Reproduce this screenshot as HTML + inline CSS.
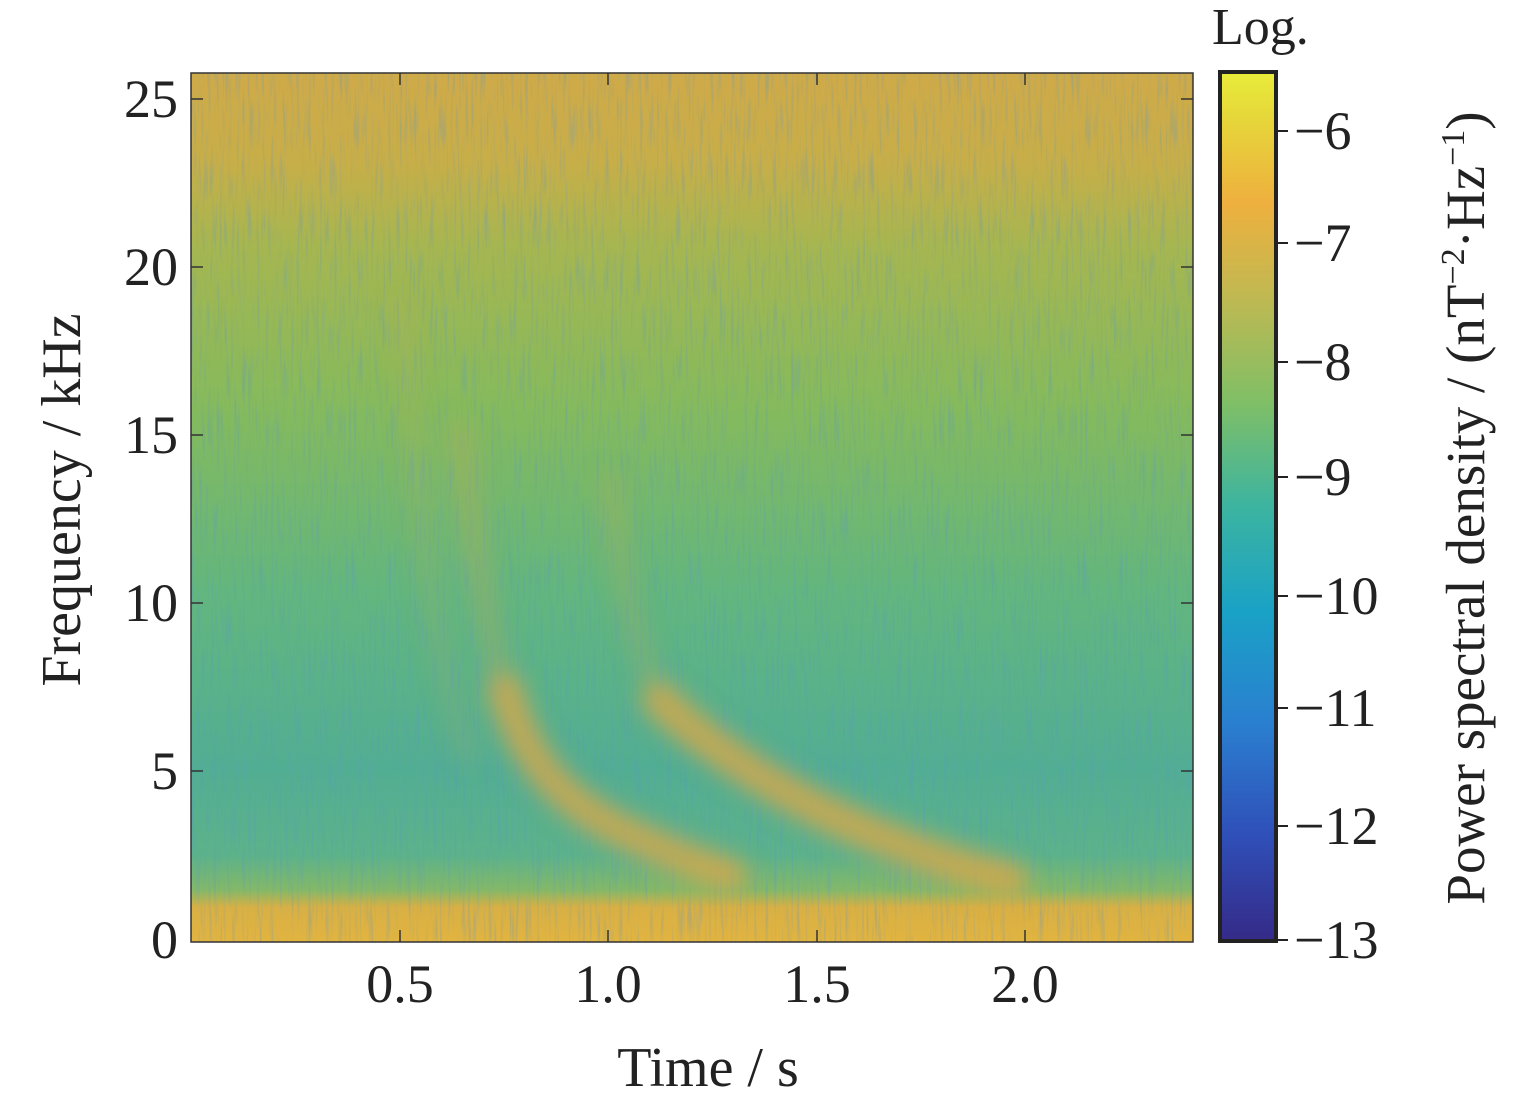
<!DOCTYPE html>
<html><head><meta charset="utf-8"><style>
html,body{margin:0;padding:0;background:#fff;}
svg{display:block;font-family:"Liberation Serif",serif;}
</style></head><body>
<svg width="1535" height="1102" viewBox="0 0 1535 1102">
<defs>
<linearGradient id="bg" x1="0" y1="0" x2="0" y2="1">
<stop offset="0" stop-color="#cfaa48"/>
<stop offset="0.1" stop-color="#c8ae48"/>
<stop offset="0.2" stop-color="#a6b650"/>
<stop offset="0.38" stop-color="#86ba5c"/>
<stop offset="0.6" stop-color="#62b67e"/>
<stop offset="0.8" stop-color="#52ae92"/>
<stop offset="0.9" stop-color="#5cb28a"/>
<stop offset="0.94" stop-color="#84b868"/>
<stop offset="0.96" stop-color="#d8b044"/>
<stop offset="1" stop-color="#e2b440"/>
</linearGradient>
<linearGradient id="cb" x1="0" y1="1" x2="0" y2="0">
<stop offset="0" stop-color="#352a87"/>
<stop offset="0.12" stop-color="#2f4fb8"/>
<stop offset="0.25" stop-color="#2a7fd0"/>
<stop offset="0.38" stop-color="#1aa2c6"/>
<stop offset="0.5" stop-color="#3cb4a0"/>
<stop offset="0.62" stop-color="#80bf66"/>
<stop offset="0.75" stop-color="#c4b850"/>
<stop offset="0.85" stop-color="#eeb03e"/>
<stop offset="0.95" stop-color="#e6d83a"/>
<stop offset="1" stop-color="#e8ec3a"/>
</linearGradient>
<filter id="noise" x="0" y="0" width="100%" height="100%">
<feTurbulence type="fractalNoise" baseFrequency="0.35 0.02" numOctaves="2" seed="3"/>
<feColorMatrix type="matrix" values="0 0 0 0 0.1  0 0 0 0 0.3  0 0 0 0 0.6  2.2 0 0 0 -1.1"/>
</filter>
<filter id="blur"><feGaussianBlur stdDeviation="12"/></filter>
<clipPath id="pc"><rect x="191" y="73" width="1002" height="869"/></clipPath>
</defs>
<g clip-path="url(#pc)">
<rect x="191" y="73" width="1002" height="869" fill="url(#bg)"/>
<rect x="191" y="73" width="1002" height="869" filter="url(#noise)" opacity="0.4"/>
<g filter="url(#blur)" fill="none" stroke="#dca848" stroke-linecap="round">
<path d="M460 430 C475 560 490 640 505 690" stroke-width="18" opacity="0.35"/>
<path d="M505 690 C525 760 560 800 620 830 C660 850 700 865 730 875" stroke-width="34" opacity="0.8"/>
<path d="M610 480 C625 600 640 660 660 690" stroke-width="16" opacity="0.3"/>
<path d="M660 700 C700 740 760 780 820 810 C880 840 950 865 1010 880" stroke-width="36" opacity="0.8"/>
<path d="M400 300 C420 500 430 650 470 760" stroke-width="10" opacity="0.3"/>
</g>
</g>
<rect x="191" y="73" width="1002" height="869" fill="none" stroke="#333" stroke-width="1.5"/>
<g stroke="#333" stroke-width="1.5">
<line x1="400" y1="942" x2="400" y2="930"/><line x1="608" y1="942" x2="608" y2="930"/>
<line x1="817" y1="942" x2="817" y2="930"/><line x1="1025" y1="942" x2="1025" y2="930"/>
<line x1="400" y1="73" x2="400" y2="85"/><line x1="608" y1="73" x2="608" y2="85"/>
<line x1="817" y1="73" x2="817" y2="85"/><line x1="1025" y1="73" x2="1025" y2="85"/>
<line x1="191" y1="771" x2="203" y2="771"/><line x1="191" y1="603" x2="203" y2="603"/>
<line x1="191" y1="435" x2="203" y2="435"/><line x1="191" y1="267" x2="203" y2="267"/><line x1="191" y1="99" x2="203" y2="99"/>
<line x1="1193" y1="771" x2="1181" y2="771"/><line x1="1193" y1="603" x2="1181" y2="603"/>
<line x1="1193" y1="435" x2="1181" y2="435"/><line x1="1193" y1="267" x2="1181" y2="267"/><line x1="1193" y1="99" x2="1181" y2="99"/>
</g>
<g font-size="54" fill="#222" text-anchor="end">
<text x="178" y="958">0</text><text x="178" y="789">5</text><text x="178" y="621">10</text>
<text x="178" y="453">15</text><text x="178" y="285">20</text><text x="178" y="117">25</text>
</g>
<g font-size="54" fill="#222" text-anchor="middle">
<text x="400" y="1002">0.5</text><text x="608" y="1002">1.0</text><text x="817" y="1002">1.5</text><text x="1025" y="1002">2.0</text>
<text x="708" y="1086" font-size="56">Time / s</text>
</g>
<text transform="translate(80,500) rotate(-90)" font-size="56" fill="#222" text-anchor="middle">Frequency / kHz</text>
<rect x="1220" y="72" width="56" height="869" fill="url(#cb)" stroke="#222" stroke-width="4"/>
<g stroke="#222" stroke-width="2">
<line x1="1276" y1="131" x2="1288" y2="131"/><line x1="1276" y1="243" x2="1288" y2="243"/>
<line x1="1276" y1="362" x2="1288" y2="362"/><line x1="1276" y1="477" x2="1288" y2="477"/>
<line x1="1276" y1="596" x2="1288" y2="596"/><line x1="1276" y1="708" x2="1288" y2="708"/>
<line x1="1276" y1="826" x2="1288" y2="826"/><line x1="1276" y1="940" x2="1288" y2="940"/>
</g>
<g font-size="54" fill="#222">
<text x="1294" y="149">−6</text><text x="1294" y="261">−7</text><text x="1294" y="380">−8</text>
<text x="1294" y="495">−9</text><text x="1294" y="614">−10</text><text x="1294" y="726">−11</text>
<text x="1294" y="844">−12</text><text x="1294" y="958">−13</text>
<text x="1212" y="44" font-size="52">Log.</text>
</g>
<text transform="translate(1484,508) rotate(-90)" font-size="55" fill="#222" text-anchor="middle">Power spectral density / (nT<tspan dy="-20" font-size="34">−2</tspan><tspan dy="20">·Hz</tspan><tspan dy="-20" font-size="34">−1</tspan><tspan dy="20">)</tspan></text>
</svg>
</body></html>
